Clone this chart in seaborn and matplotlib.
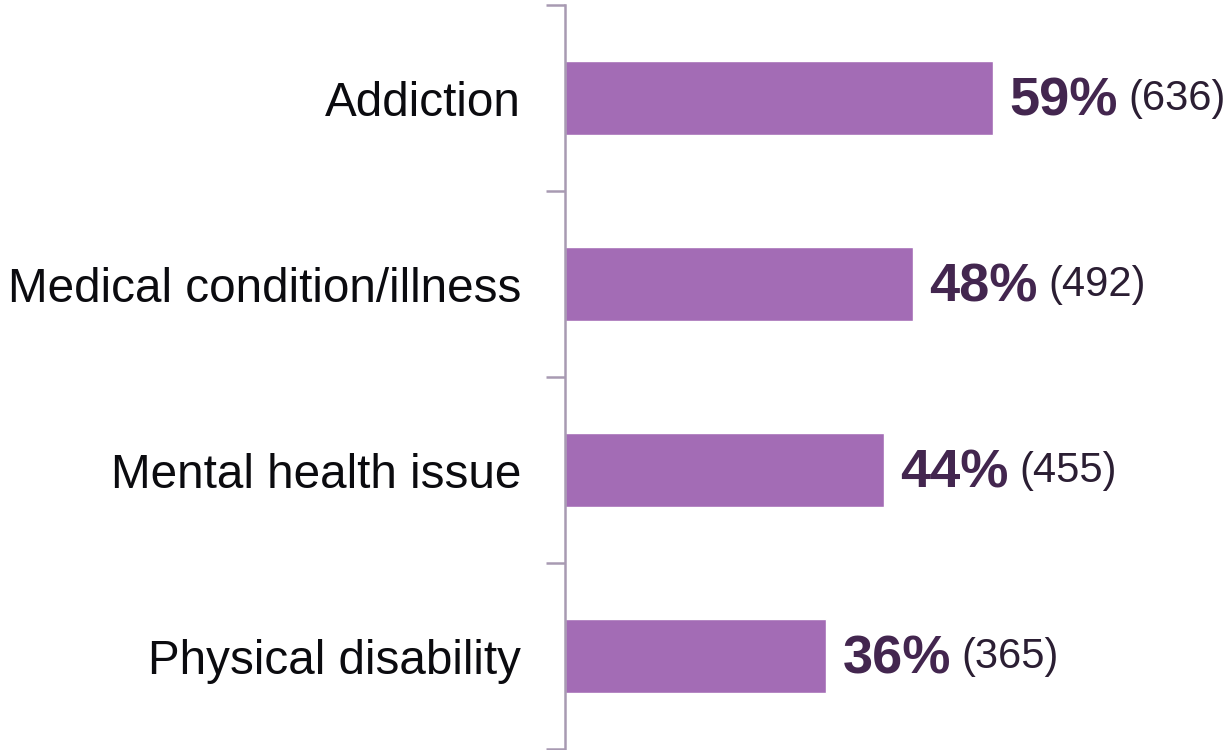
import matplotlib
matplotlib.use("Agg")
import matplotlib.pyplot as plt
import seaborn as sns
import pandas as pd

categories = ["Addiction", "Medical condition/illness", "Mental health issue", "Physical disability"]
percents = [59, 48, 44, 36]
counts = [636, 492, 455, 365]

bar_color = "#A36CB5"
axis_color = "#A89AB2"
pct_color = "#43264F"
count_color = "#2B1E33"

sns.set_theme(style="white")
plt.rcParams["font.family"] = ["Liberation Sans", "DejaVu Sans"]

df = pd.DataFrame({"category": categories, "percent": percents})

fig = plt.figure(figsize=(12.26, 7.5), dpi=100)
ax = fig.add_axes([565 / 1226, 1 / 750, 1 - 565 / 1226, 744 / 750])

sns.barplot(data=df, x="percent", y="category", orient="h", color=bar_color,
            saturation=1, width=0.4, ax=ax)

ax.set_xlim(0, 91.2)
ax.set_ylim(3.5, -0.5)
ax.set_xlabel("")
ax.set_ylabel("")
ax.set_xticks([])

for side in ("top", "right", "bottom"):
    ax.spines[side].set_visible(False)
ax.spines["left"].set_color(axis_color)
ax.spines["left"].set_linewidth(1.8)

# category labels on major ticks, tick marks at category boundaries
ax.set_yticks(range(len(categories)))
ax.set_yticklabels(categories, fontsize=34.3, color="#0B0B0F")
ax.tick_params(axis="y", which="major", length=0, pad=31.5)
ax.set_yticks([i - 0.5 for i in range(len(categories) + 1)], minor=True)
ax.tick_params(axis="y", which="minor", length=14, width=1.8, color=axis_color, left=True)

for i, (p, n) in enumerate(zip(percents, counts)):
    t = ax.annotate(f"{p}%", xy=(p, i), xytext=(12, -2.5), textcoords="offset points",
                    va="center", ha="left", fontsize=39, fontweight="bold", color=pct_color)
    ax.annotate(f"({n})", xy=(1, 0.5), xycoords=t, xytext=(7.5, 1.5), textcoords="offset points",
                va="center", ha="left", fontsize=30, color=count_color)

fig.savefig("out.png", dpi=100)
